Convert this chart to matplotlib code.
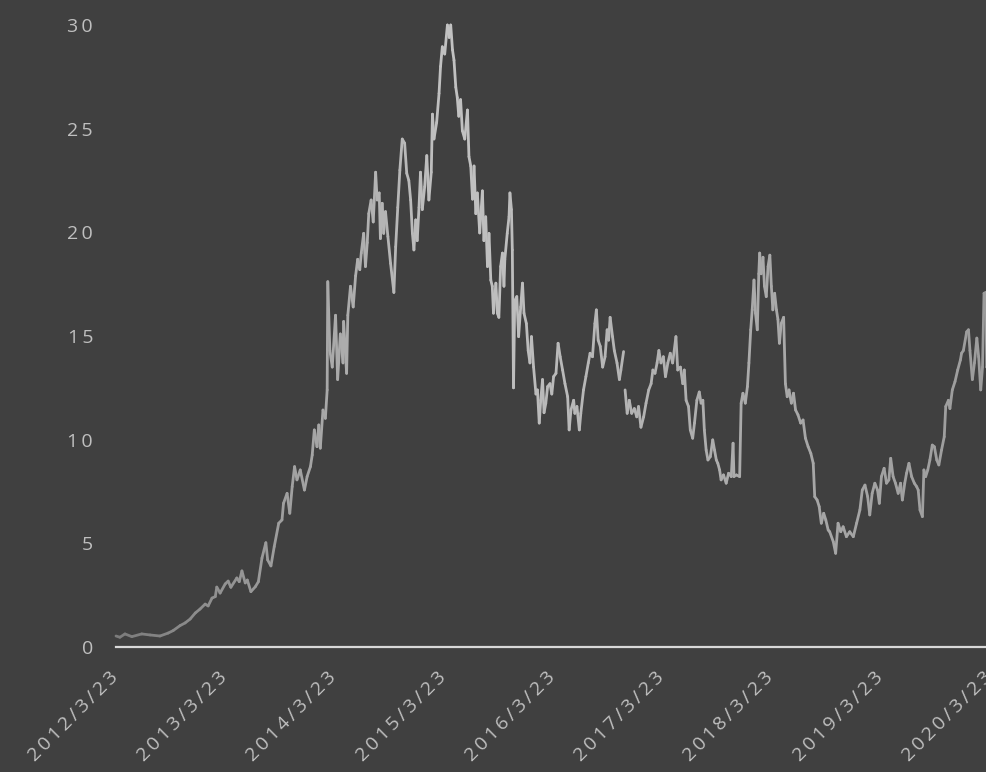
"""
Price history line chart (dark theme), 2012/3/23 - 2020/3/23.
"""

import matplotlib
matplotlib.use("Agg")
import matplotlib.pyplot as plt
import matplotlib.dates as mdates
import matplotlib.transforms as mtransforms
import numpy as np
import pandas as pd
from matplotlib.collections import LineCollection
from matplotlib.colors import LinearSegmentedColormap

START_DATE = "2012-03-23"

# days after START_DATE / value
rise_days = [0, 13, 30, 53, 86, 114, 147, 174, 191, 214, 231, 248, 265, 281, 298, 308,
             321, 332, 337, 348, 365, 375, 384, 404, 412, 421, 432, 439, 451, 466, 476,
             488, 501, 507, 518, 529, 544, 555, 560, 572, 581, 589, 597, 605, 616, 630,
             639, 650, 656, 663, 672, 678, 683, 692, 700, 706]
rise_vals = [0.53, 0.47, 0.63, 0.50, 0.63, 0.58, 0.53, 0.67, 0.79, 1.03, 1.16, 1.35, 1.64,
             1.83, 2.07, 1.98, 2.36, 2.43, 2.89, 2.60, 3.04, 3.18, 2.88, 3.33, 3.15, 3.67,
             3.09, 3.23, 2.67, 2.91, 3.15, 4.29, 5.03, 4.20, 3.91, 4.84, 5.97, 6.13, 6.93,
             7.41, 6.45, 7.73, 8.70, 8.06, 8.54, 7.57, 8.22, 8.70, 9.26, 10.47, 9.66, 10.71,
             9.59, 11.43, 11.03, 12.40]

peak_days = [708, 715, 723, 734, 741, 750, 759, 761, 771, 775, 784, 793, 801, 808, 815,
             820, 828, 834, 840, 845, 853, 860, 868, 873, 880, 884, 890, 895, 901, 909,
             918, 929, 935, 942, 949, 957, 965, 972, 979, 985, 991, 996, 1002, 1007, 1013,
             1018, 1024, 1032, 1039, 1046, 1054, 1058, 1063, 1072, 1080, 1085, 1091, 1099,
             1108, 1114, 1119, 1125, 1130, 1136, 1141, 1146, 1152, 1158, 1166, 1175, 1180,
             1186, 1192, 1197, 1203, 1208, 1216, 1225, 1230, 1236, 1242, 1247, 1253, 1258,
             1262, 1270, 1275, 1280, 1286, 1292, 1297, 1300, 1308, 1314, 1317, 1322, 1325]
peak_vals = [17.62, 14.3, 13.5, 16.0, 12.9, 15.1, 13.7, 15.7, 13.2, 16.0, 17.4, 16.4, 17.9,
             18.7, 18.2, 19.0, 19.95, 18.35, 19.5, 20.9, 21.56, 20.5, 22.9, 21.56, 21.9,
             19.7, 21.4, 19.95, 21.0, 19.8, 18.5, 17.1, 19.3, 21.2, 23.0, 24.5, 24.3, 22.85,
             22.5, 21.56, 19.95, 19.15, 20.6, 19.6, 21.2, 22.9, 21.1, 22.2, 23.7, 21.56,
             22.9, 25.7, 24.5, 25.3, 26.7, 28.0, 28.95, 28.6, 30.0, 29.4, 30.0, 28.8, 28.3,
             27.0, 26.5, 25.6, 26.4, 24.9, 24.5, 25.9, 23.65, 23.2, 21.6, 23.2, 20.9, 21.9,
             19.97, 22.0, 19.6, 20.75, 18.35, 19.95, 17.7, 17.4, 16.1, 17.55, 16.1, 15.9,
             18.35, 19.0, 17.4, 18.7, 19.95, 20.75, 21.9, 21.1, 19.15]

mid_days = [1329, 1333, 1340, 1346, 1353, 1359, 1364, 1372, 1378, 1384, 1389, 1396, 1404,
            1409, 1415, 1420, 1426, 1431, 1437, 1443, 1451, 1457, 1463, 1471, 1478, 1485,
            1493, 1501, 1510, 1515, 1521, 1530, 1534, 1541, 1549, 1554, 1563, 1571, 1579,
            1585, 1593, 1601, 1606, 1612, 1619, 1627, 1635, 1642, 1647, 1652, 1660, 1666,
            1675, 1683, 1688, 1697, 1700, 1702, 1709, 1716, 1724, 1733, 1741, 1747, 1755,
            1764, 1772, 1781, 1789, 1795, 1802, 1809, 1815, 1822, 1830, 1837, 1845, 1853,
            1861, 1872, 1878, 1887, 1895, 1900, 1906, 1914, 1920, 1928, 1934, 1942, 1950,
            1956, 1962, 1967, 1973, 1979, 1987, 1995, 2001, 2007, 2012, 2018, 2023, 2031,
            2040, 2048, 2057, 2063, 2066, 2074, 2085]
mid_vals = [12.5, 16.7, 16.9, 14.97, 16.4, 17.55, 16.1, 15.6, 14.3, 13.7, 14.97, 13.5, 12.2,
            12.4, 10.8, 11.9, 12.9, 11.3, 11.76, 12.56, 12.7, 12.2, 13.04, 13.2, 14.65, 14.0,
            13.36, 12.7, 12.07, 10.47, 11.43, 11.9, 11.27, 11.6, 10.47, 11.27, 12.4, 13.04,
            13.7, 14.17, 14.0, 15.6, 16.26, 14.8, 14.5, 13.5, 14.0, 15.3, 14.8, 15.9, 14.97,
            14.3, 13.7, 12.9, 13.36, 14.25, np.nan, 12.4, 11.27, 11.9, 11.27, 11.5, 11.1,
            11.6, 10.6, 11.1, 11.76, 12.4, 12.7, 13.36, 13.2, 13.7, 14.3, 13.7, 14.0, 13.04,
            13.7, 14.17, 13.7, 14.97, 13.36, 13.5, 12.7, 13.36, 11.9, 11.6, 10.47, 10.07,
            10.8, 11.9, 12.3, 11.76, 11.9, 10.47, 9.5, 9.02, 9.18, 9.99, 9.5, 9.02, 8.86,
            8.54, 8.06, 8.3, 7.9, 8.38, 8.22, 9.83, 8.22, 8.3, 8.22]

late_days = [2090, 2096, 2104, 2111, 2116, 2122, 2127, 2133, 2138, 2144, 2149, 2152, 2157,
             2163, 2168, 2174, 2180, 2186, 2191, 2196, 2202, 2208, 2213, 2218, 2224, 2232,
             2238, 2244, 2250, 2258, 2265, 2272, 2280, 2289, 2297, 2305, 2314, 2323, 2331,
             2336, 2344, 2351, 2358, 2366, 2373, 2381, 2386, 2398, 2406, 2414, 2423, 2431,
             2442, 2453, 2465, 2476, 2487, 2495, 2504, 2513, 2520, 2528, 2537, 2546, 2552,
             2559, 2568, 2576, 2584, 2590, 2598, 2606, 2615, 2623, 2629, 2637, 2643, 2651,
             2660, 2669, 2677, 2682, 2688, 2696, 2701, 2707, 2714, 2721, 2729, 2736, 2744,
             2751, 2760, 2769, 2774, 2783, 2788, 2796, 2805, 2814, 2823, 2827, 2833, 2844,
             2850, 2855, 2863, 2870, 2878, 2884, 2891, 2897, 2902, 2908, 2911, 2918, 2922]
late_vals = [11.76, 12.24, 11.76, 12.56, 13.7, 15.3, 16.26, 17.7, 16.1, 15.3, 18.0, 19.0,
             18.0, 18.8, 17.4, 16.9, 18.35, 18.9, 17.4, 16.26, 17.06, 16.26, 15.8, 14.65,
             15.6, 15.9, 12.7, 12.07, 12.4, 11.76, 12.24, 11.43, 11.2, 10.8, 10.95, 10.07,
             9.66, 9.34, 8.86, 7.25, 7.09, 6.77, 5.97, 6.45, 6.13, 5.64, 5.56, 5.08, 4.52,
             5.97, 5.56, 5.80, 5.32, 5.56, 5.32, 5.97, 6.61, 7.57, 7.81, 7.25, 6.37, 7.41,
             7.90, 7.57, 6.93, 8.22, 8.62, 7.90, 8.06, 9.10, 8.22, 7.90, 7.41, 7.90, 7.09,
             7.90, 8.38, 8.86, 8.22, 7.90, 7.73, 7.57, 6.61, 6.29, 8.54, 8.22, 8.54, 9.02,
             9.74, 9.66, 9.02, 8.78, 9.50, 10.14, 11.6, 11.9, 11.5, 12.4, 12.8, 13.36,
             13.84, 14.17, 14.3, 15.2, 15.3, 14.3, 12.9, 13.7, 14.9, 14.0, 12.4, 13.5,
             17.06, 17.1, 13.5, 13.4, 13.2]

tick_years = [2012, 2013, 2014, 2015, 2016, 2017, 2018, 2019, 2020]
tick_labels = [f"{y}/3/23" for y in tick_years]
y_ticks = [0, 5, 10, 15, 20, 25, 30]

BG = "#404040"
TEXT = "#bfbfbf"
AXIS_LINE = "#d9d9d9"
FONT = ["Open Sans", "DejaVu Sans"]
# the original labels are drawn with some letter spacing
TRACK = "\u2009"


def spaced(s):
    return TRACK.join(s)


def build_series():
    days = rise_days + peak_days + mid_days + late_days
    vals = rise_vals + peak_vals + mid_vals + late_vals
    dates = pd.to_datetime(START_DATE) + pd.to_timedelta(days, unit="D")
    return mdates.date2num(dates.to_pydatetime()), np.array(vals, dtype=float)


def main():
    x, y = build_series()

    fig = plt.figure(figsize=(9.87, 7.72), dpi=100, facecolor=BG)
    ax = fig.add_axes([116 / 987, 125 / 772, 874 / 987, 622 / 772], facecolor=BG)

    # line shade drifts along time: dim at start, brightest near 2015, medium at the end
    cmap = LinearSegmentedColormap.from_list(
        "greys", [(0.0, "#7c7c7c"), (0.38, "#c2c2c2"), (0.7, "#acacac"), (1.0, "#9c9c9c")]
    )
    pts = np.column_stack([x, y]).reshape(-1, 1, 2)
    segs = np.concatenate([pts[:-1], pts[1:]], axis=1)
    t = (x[:-1] - x[0]) / (x[-1] - x[0])
    lc = LineCollection(segs, colors=cmap(t), linewidths=2.0, capstyle="round",
                        joinstyle="round", clip_on=False)
    ax.add_collection(lc)

    x0 = mdates.date2num(pd.Timestamp(START_DATE).to_pydatetime())
    x1 = mdates.date2num(pd.Timestamp("2020-03-23").to_pydatetime())
    ax.set_xlim(x0, x1)
    ax.set_ylim(0, 30)

    for side in ["top", "right", "left"]:
        ax.spines[side].set_visible(False)
    ax.spines["bottom"].set_color(AXIS_LINE)
    ax.spines["bottom"].set_linewidth(1.6)
    ax.spines["bottom"].set_clip_on(False)

    tick_pos = [mdates.date2num(pd.Timestamp(f"{yr}-03-23").to_pydatetime()) for yr in tick_years]
    ax.set_xticks(tick_pos)
    ax.set_xticklabels([spaced(s) for s in tick_labels])
    ax.set_yticks(y_ticks)
    ax.set_yticklabels([spaced(str(v)) for v in y_ticks])
    ax.tick_params(axis="both", length=0, colors=TEXT, labelsize=14)
    ax.tick_params(axis="y", pad=16.5)
    ax.tick_params(axis="x", pad=15)

    offset = mtransforms.ScaledTranslation(-7 / 100, 0, fig.dpi_scale_trans)
    for lab in ax.get_xticklabels():
        lab.set_rotation(45)
        lab.set_rotation_mode("anchor")
        lab.set_ha("right")
        lab.set_va("top")
        lab.set_fontfamily(FONT)
        lab.set_transform(lab.get_transform() + offset)
    for lab in ax.get_yticklabels():
        lab.set_fontfamily(FONT)

    fig.savefig("out.png", dpi=100, facecolor=BG)
    plt.close(fig)


if __name__ == "__main__":
    main()
